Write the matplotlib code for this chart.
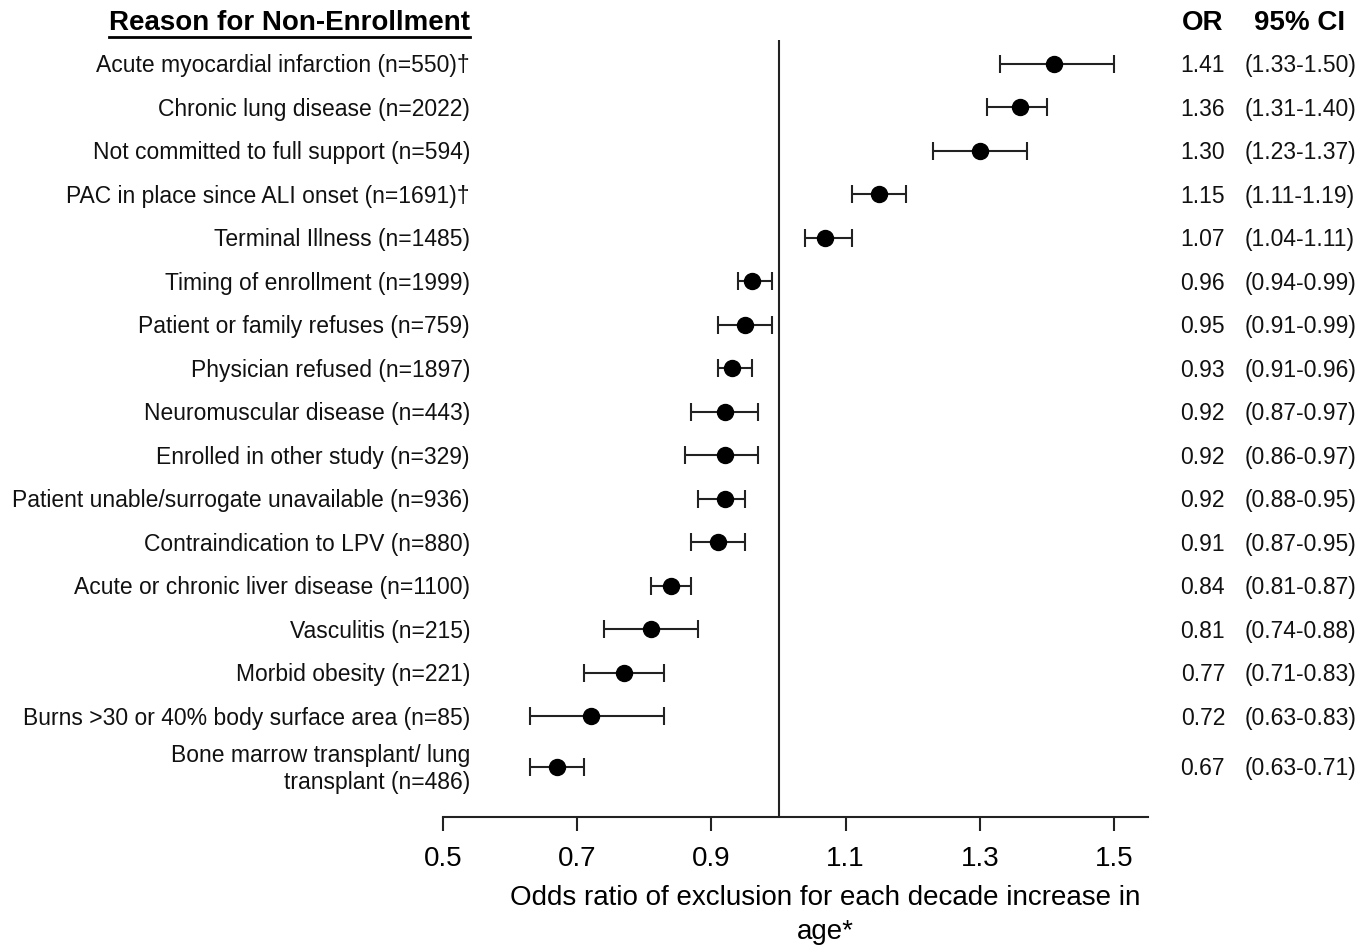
import numpy as np
import matplotlib
matplotlib.use("Agg")
import matplotlib.pyplot as plt
from matplotlib.lines import Line2D
import matplotlib.transforms as mtransforms

plt.rcParams['font.family'] = ['Liberation Sans', 'DejaVu Sans']

reasons = [
    "Acute myocardial infarction (n=550)\u2020",
    "Chronic lung disease (n=2022)",
    "Not committed to full support (n=594)",
    "PAC in place since ALI onset (n=1691)\u2020",
    "Terminal Illness (n=1485)",
    "Timing of enrollment (n=1999)",
    "Patient or family refuses (n=759)",
    "Physician refused (n=1897)",
    "Neuromuscular disease (n=443)",
    "Enrolled in other study (n=329)",
    "Patient unable/surrogate unavailable (n=936)",
    "Contraindication to LPV (n=880)",
    "Acute or chronic liver disease (n=1100)",
    "Vasculitis (n=215)",
    "Morbid obesity (n=221)",
    "Burns >30 or 40% body surface area (n=85)",
    "Bone marrow transplant/ lung\ntransplant (n=486)",
]
odds_ratio = [1.41, 1.36, 1.30, 1.15, 1.07, 0.96, 0.95, 0.93, 0.92, 0.92, 0.92, 0.91, 0.84, 0.81, 0.77, 0.72, 0.67]
ci_low = [1.33, 1.31, 1.23, 1.11, 1.04, 0.94, 0.91, 0.91, 0.87, 0.86, 0.88, 0.87, 0.81, 0.74, 0.71, 0.63, 0.63]
ci_high = [1.50, 1.40, 1.37, 1.19, 1.11, 0.99, 0.99, 0.96, 0.97, 0.97, 0.95, 0.95, 0.87, 0.88, 0.83, 0.83, 0.71]
x_ticks = [0.5, 0.7, 0.9, 1.1, 1.3, 1.5]

W, H = 1372, 947
fig = plt.figure(figsize=(W / 100, H / 100), dpi=100)
ax = fig.add_axes([443 / W, 1 - 817 / H, (1148 - 443) / W, (817 - 40) / H])

n = len(reasons)
ypos = np.arange(n, dtype=float)
ypos[-1] += 0.17

orr = np.array(odds_ratio)
lo = np.array(ci_low)
hi = np.array(ci_high)
ax.errorbar(orr, ypos, xerr=[orr - lo, hi - orr], fmt='o', color='black',
            ecolor='#222222', elinewidth=1.5, capsize=6.5, capthick=1.5,
            markersize=11.5, zorder=3)
ax.axvline(1.0, color='#222222', lw=1.5, zorder=1)

ax.set_xlim(0.5, 1.5 + 34 / 671)
ax.set_ylim(ypos[-1] + 1.15, -0.55)
for s in ['top', 'right', 'left']:
    ax.spines[s].set_visible(False)
ax.spines['bottom'].set_linewidth(1.5)
ax.spines['bottom'].set_color('#222222')
ax.set_yticks([])
ax.set_xticks(x_ticks)
ax.set_xticklabels([f"{t:.1f}" for t in x_ticks], fontsize=20)
ax.tick_params(axis='x', length=10, width=1.5, color='#222222', pad=11)

# x label
fig.text(825 / W, 1 - 898 / H, "Odds ratio of exclusion for each decade increase in",
         ha='center', va='center', fontsize=20)
fig.text(825 / W, 1 - 932 / H, "age*", ha='center', va='center', fontsize=20)

# row labels and values
tr_lab = mtransforms.blended_transform_factory(fig.transFigure, ax.transData)
tr_lab = mtransforms.offset_copy(tr_lab, fig=fig, y=-2, units='dots')
for i, r in enumerate(reasons):
    ax.text(470 / W, ypos[i], r, transform=tr_lab, ha='right', va='center',
            fontsize=16.5, color='#111111', clip_on=False, linespacing=1.25)
    ax.text(1225 / W, ypos[i], f"{odds_ratio[i]:.2f}", transform=tr_lab,
            ha='right', va='center', fontsize=16.5, color='#111111', clip_on=False)
    ax.text(1245 / W, ypos[i], f"({ci_low[i]:.2f}-{ci_high[i]:.2f})", transform=tr_lab,
            ha='left', va='center', fontsize=16.5, color='#111111', clip_on=False)

# headers
title = fig.text(470 / W, 1 - 23 / H, "Reason for Non-Enrollment", ha='right', va='center',
                 fontsize=20, fontweight='bold')
fig.text(1203 / W, 1 - 23 / H, "OR", ha='center', va='center', fontsize=20, fontweight='bold')
fig.text(1300 / W, 1 - 23 / H, "95% CI", ha='center', va='center', fontsize=20, fontweight='bold')

fig.canvas.draw()
bb = title.get_window_extent()
fig.add_artist(Line2D([bb.x0 / W, bb.x1 / W], [(bb.y0 - 1) / H, (bb.y0 - 1) / H],
                      transform=fig.transFigure, color='black', lw=2))

fig.savefig("out.png", dpi=100)
